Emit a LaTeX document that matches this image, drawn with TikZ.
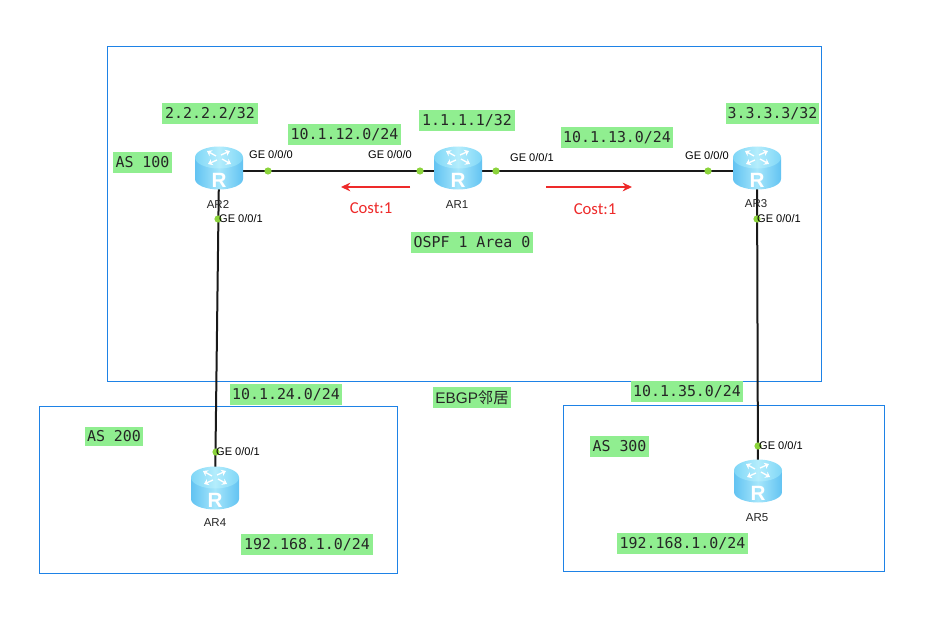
\documentclass[tikz,border=0pt]{standalone}
\usepackage{fontspec}
\setmainfont{Liberation Sans}
\setmonofont{DejaVu Sans Mono}
\newfontfamily\cjkfont{Noto Sans CJK SC}
\newfontfamily\costfont{Carlito}
\usetikzlibrary{arrows.meta}
\definecolor{zoneblue}{HTML}{1E82E6}
\definecolor{tagfill}{HTML}{90EE90}
\definecolor{portgreen}{HTML}{8CD43C}
\definecolor{costred}{HTML}{EE2A2A}
\definecolor{bodyedge}{HTML}{62C3F2}
\definecolor{bodymid}{HTML}{A6E6FB}
\definecolor{topdark}{HTML}{7FD6F7}
\definecolor{toplight}{HTML}{B4EDFC}
\tikzset{
  x=0.75pt, y=-0.75pt,
  zone/.style={draw=zoneblue, line width=0.75pt},
  link/.style={draw=black!90, line width=1.5pt},
  port/.style={circle, fill=portgreen, inner sep=0pt, minimum size=5.4pt},
  portlabel/.style={font=\fontsize{8.3}{10}\selectfont, text=black, inner sep=0pt},
  routername/.style={font=\fontsize{8.6}{10}\selectfont, text=black!85, inner sep=0pt},
  tag/.style={fill=tagfill, inner sep=0pt, text=black!85, font=\ttfamily\fontsize{11.2}{13}\selectfont},
  cost/.style={text=costred, font=\costfont\fontsize{12.5}{14}\selectfont, inner sep=0pt},
  costarrow/.style={draw=costred, line width=1.5pt, -{Stealth[length=7pt,width=6.5pt]}},
  routericon/.pic={
    % cylinder body
    \shade[left color=bodyedge, right color=bodyedge, middle color=bodymid]
      (-24,-13.5) -- (-24,8) arc[start angle=180, end angle=0, x radius=24, y radius=10.5]
      -- (24,-13.5) -- cycle;
    % top face
    \shade[left color=topdark, right color=topdark, middle color=toplight]
      (0,-13.5) ellipse[x radius=24, y radius=11];
    % four arrows on the top face
    \foreach \ax/\ay/\bx/\by in {-3/-15/-12/-20, 2/-16/11/-20, -2/-11/-11/-7, 3/-12/12/-7}{
      \draw[white, line width=1pt, -{Stealth[length=3.5pt,width=5pt]}]
        (\ax,\ay) -- (\bx,\by);
    }
    % letter on the body
    \node[text=white, inner sep=0pt, font=\bfseries\fontsize{15.5}{16}\selectfont] at (0,9) {R};
  }
}
% #1 name, #2 left, #3 right, #4 top, #5 bottom, #6 text
\newcommand{\tagbox}[6]{%
  \node[tag, minimum width={(#3-#2)*0.75pt}, minimum height={(#5-#4)*0.75pt}]
    (#1) at ({(#2+#3)/2},{(#4+#5)/2}) {#6};%
}
\begin{document}
\begin{tikzpicture}
\useasboundingbox[fill=white] (0,0) rectangle (941,624);

% autonomous system outlines
\node[zone, minimum width=535.5pt, minimum height=251.25pt, inner sep=0pt] (as100) at (464.5,214) {};
\node[zone, minimum width=268.5pt, minimum height=125.25pt, inner sep=0pt] (as200) at (218.5,490) {};
\node[zone, minimum width=240.75pt, minimum height=124.5pt, inner sep=0pt] (as300) at (724,488.5) {};

% router anchor points
\coordinate (ar2) at (219,171);
\coordinate (ar1) at (458,171);
\coordinate (ar3) at (757,171);
\coordinate (ar4) at (215,491);
\coordinate (ar5) at (758,484);

% links
\draw[link] (ar2) -- (ar1);
\draw[link] (ar1) -- (ar3);
\draw[link] (ar2) -- (ar4);
\draw[link] (ar3) -- (ar5);

% routers
\pic at (ar2) {routericon};
\pic at (ar1) {routericon};
\pic at (ar3) {routericon};
\pic at (ar4) {routericon};
\pic at (ar5) {routericon};

\node[routername] (ar2name) at (218,204) {AR2};
\node[routername] (ar1name) at (457,205) {AR1};
\node[routername] (ar3name) at (756,204) {AR3};
\node[routername] (ar4name) at (215,523) {AR4};
\node[routername] (ar5name) at (757,518) {AR5};

% interface markers
\node[port] (p2a) at (268,171) {};
\node[port] (p1a) at (420,171) {};
\node[port] (p1b) at (496,171) {};
\node[port] (p3a) at (708,171) {};
\node[port] (p2b) at (218,219) {};
\node[port] (p3b) at (757,219) {};
\node[port] (p4a) at (216,452) {};
\node[port] (p5a) at (758,446) {};

\node[portlabel] (l2a) at (271,155) {GE 0/0/0};
\node[portlabel] (l1a) at (390,155) {GE 0/0/0};
\node[portlabel] (l1b) at (532,158) {GE 0/0/1};
\node[portlabel] (l3a) at (707,156) {GE 0/0/0};
\node[portlabel] (l2b) at (241,219) {GE 0/0/1};
\node[portlabel] (l3b) at (779,219) {GE 0/0/1};
\node[portlabel] (l4a) at (238,452) {GE 0/0/1};
\node[portlabel] (l5a) at (781,446) {GE 0/0/1};

% address and area tags
\tagbox{t1}{162}{258}{103}{124}{2.2.2.2/32}
\tagbox{t2}{288}{401}{124}{145}{10.1.12.0/24}
\tagbox{t3}{419}{515}{110}{131}{1.1.1.1/32}
\tagbox{t4}{561}{673}{127}{148}{10.1.13.0/24}
\tagbox{t5}{726}{819}{103}{124}{3.3.3.3/32}
\tagbox{t6}{113}{172}{152}{173}{AS 100}
\tagbox{t7}{411}{533}{232}{253}{OSPF 1 Area 0}
\tagbox{t8}{230}{342}{384}{405}{10.1.24.0/24}
\tagbox{t9}{433}{511}{387}{408}{\fontsize{11.5}{13}\rmfamily EBGP\cjkfont 邻居}
\tagbox{t10}{631}{743}{381}{402}{10.1.35.0/24}
\tagbox{t11}{85}{143}{427}{446}{AS 200}
\tagbox{t12}{590}{649}{436}{457}{AS 300}
\tagbox{t13}{241}{373}{534}{555}{192.168.1.0/24}
\tagbox{t14}{617}{748}{533}{554}{192.168.1.0/24}

% link costs
\coordinate (c1s) at (410,187);
\coordinate (c1e) at (341,187);
\coordinate (c2s) at (546,187);
\coordinate (c2e) at (632,187);
\draw[costarrow] (c1s) -- (c1e);
\draw[costarrow] (c2s) -- (c2e);
\node[cost] (cost1) at (371,208) {Cost:1};
\node[cost] (cost2) at (595,209) {Cost:1};
\end{tikzpicture}
\end{document}
